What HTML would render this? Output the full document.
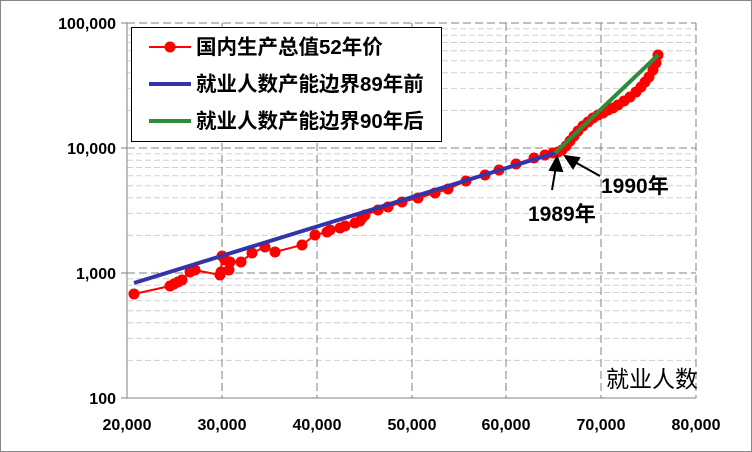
<!DOCTYPE html><html><head><meta charset="utf-8"><style>body{margin:0;background:#fff}svg{display:block;font-family:"Liberation Sans","Noto Sans CJK SC",sans-serif}</style></head><body>
<svg width="752" height="452" viewBox="0 0 752 452">
<rect x="0.5" y="0.5" width="751" height="451" fill="#fff" stroke="#888"/>
<g stroke="#d0d0d0" stroke-dasharray="6,3" stroke-width="1">
<path d="M127 110.4H696M127 88.4H696M127 72.8H696M127 60.7H696M127 50.8H696M127 42.5H696M127 35.2H696M127 28.7H696M127 235.4H696M127 213.4H696M127 197.8H696M127 185.7H696M127 175.8H696M127 167.5H696M127 160.2H696M127 153.7H696M127 360.4H696M127 338.4H696M127 322.8H696M127 310.7H696M127 300.8H696M127 292.5H696M127 285.2H696M127 278.7H696"/>
</g>
<g stroke="#808080" stroke-dasharray="8,4" stroke-width="1">
<path d="M127 23H696M127 148H696M127 273H696M696 23V398"/>
<path d="M222 23V398M317 23V398M412 23V398M506 23V398M601 23V398"/>
</g>
<path d="M127 23V398H696" stroke="#808080" fill="none"/>
<g stroke="#808080"><path d="M121 23H127M121 148H127M121 273H127M121 398H127"/></g>
<g font-size="16" font-weight="bold" fill="#000" text-anchor="end">
<text x="116" y="29">100,000</text><text x="116" y="154">10,000</text><text x="116" y="279">1,000</text><text x="116" y="404">100</text>
</g>
<g font-size="16" font-weight="bold" fill="#000" text-anchor="middle">
<text x="127" y="430">20,000</text><text x="222" y="430">30,000</text><text x="317" y="430">40,000</text><text x="412" y="430">50,000</text><text x="506" y="430">60,000</text><text x="601" y="430">70,000</text><text x="696" y="430">80,000</text>
</g>
<polyline fill="none" stroke="#f00" stroke-width="2" points="134,294 170,286 174,284 178,282 182,280 190,272 195,270 220,275 221,272 222,256 225,260 229,270 230,262 241,262 252,253 265,247 275,252 302,245 315,235 327,232 330,230 340,228 345,226 355,223 360,221 362,218 365,215 378,210 388,207 402,202 418,198 435,193 448,189 466,181 485,175 499,170 516,164 534,158 545,155 553,153 558,152 562,150 566,146 570,141 574,136 578,131 583,126 588,122 593,118 598,115 603,113 608,110 613,108 618,105 624,101 630,97 636,92 641,87 645,82 649,77 653,70 656,63 658,55"/>
<g fill="#f00">
<circle cx="134" cy="294" r="5.5"/><circle cx="170" cy="286" r="5.5"/><circle cx="174" cy="284" r="5.5"/><circle cx="178" cy="282" r="5.5"/><circle cx="182" cy="280" r="5.5"/><circle cx="190" cy="272" r="5.5"/><circle cx="195" cy="270" r="5.5"/><circle cx="220" cy="275" r="5.5"/><circle cx="221" cy="272" r="5.5"/><circle cx="222" cy="256" r="5.5"/><circle cx="225" cy="260" r="5.5"/><circle cx="229" cy="270" r="5.5"/><circle cx="230" cy="262" r="5.5"/><circle cx="241" cy="262" r="5.5"/><circle cx="252" cy="253" r="5.5"/><circle cx="265" cy="247" r="5.5"/><circle cx="275" cy="252" r="5.5"/><circle cx="302" cy="245" r="5.5"/><circle cx="315" cy="235" r="5.5"/><circle cx="327" cy="232" r="5.5"/><circle cx="330" cy="230" r="5.5"/><circle cx="340" cy="228" r="5.5"/><circle cx="345" cy="226" r="5.5"/><circle cx="355" cy="223" r="5.5"/><circle cx="360" cy="221" r="5.5"/><circle cx="362" cy="218" r="5.5"/><circle cx="365" cy="215" r="5.5"/><circle cx="378" cy="210" r="5.5"/><circle cx="388" cy="207" r="5.5"/><circle cx="402" cy="202" r="5.5"/><circle cx="418" cy="198" r="5.5"/><circle cx="435" cy="193" r="5.5"/><circle cx="448" cy="189" r="5.5"/><circle cx="466" cy="181" r="5.5"/><circle cx="485" cy="175" r="5.5"/><circle cx="499" cy="170" r="5.5"/><circle cx="516" cy="164" r="5.5"/><circle cx="534" cy="158" r="5.5"/><circle cx="545" cy="155" r="5.5"/><circle cx="553" cy="153" r="5.5"/><circle cx="558" cy="152" r="5.5"/><circle cx="562" cy="150" r="5.5"/><circle cx="566" cy="146" r="5.5"/><circle cx="570" cy="141" r="5.5"/><circle cx="574" cy="136" r="5.5"/><circle cx="578" cy="131" r="5.5"/><circle cx="583" cy="126" r="5.5"/><circle cx="588" cy="122" r="5.5"/><circle cx="593" cy="118" r="5.5"/><circle cx="598" cy="115" r="5.5"/><circle cx="603" cy="113" r="5.5"/><circle cx="608" cy="110" r="5.5"/><circle cx="613" cy="108" r="5.5"/><circle cx="618" cy="105" r="5.5"/><circle cx="624" cy="101" r="5.5"/><circle cx="630" cy="97" r="5.5"/><circle cx="636" cy="92" r="5.5"/><circle cx="641" cy="87" r="5.5"/><circle cx="645" cy="82" r="5.5"/><circle cx="649" cy="77" r="5.5"/><circle cx="653" cy="70" r="5.5"/><circle cx="656" cy="63" r="5.5"/><circle cx="658" cy="55" r="5.5"/>
</g>
<line x1="134" y1="283" x2="555" y2="153" stroke="#3333aa" stroke-width="4"/>
<line x1="555" y1="153" x2="658" y2="55" stroke="#2e8b3a" stroke-width="4"/>
<g stroke="#000" stroke-width="2" fill="#000">
<line x1="552" y1="190" x2="556" y2="166"/><polygon points="557,157 550,170 562,171"/>
<line x1="600" y1="176" x2="573" y2="161"/><polygon points="565,156 573,168 579,158"/>
</g>
<g font-size="21" font-weight="bold" fill="#000">
<text x="528" y="221">1989年</text><text x="601" y="193">1990年</text>
</g>
<text x="606" y="387" font-size="23" fill="#000">就业人数</text>
<rect x="131.5" y="27.5" width="310" height="114" fill="#fff" stroke="#000"/>
<line x1="149" y1="47" x2="191" y2="47" stroke="#f00" stroke-width="2"/><circle cx="170" cy="47" r="5.5" fill="#f00"/>
<line x1="149" y1="84" x2="191" y2="84" stroke="#3333aa" stroke-width="4"/>
<line x1="149" y1="121" x2="191" y2="121" stroke="#2e8b3a" stroke-width="4"/>
<g font-size="20.5" font-weight="bold" fill="#000">
<text x="196" y="54">国内生产总值52年价</text>
<text x="196" y="91">就业人数产能边界89年前</text>
<text x="196" y="128">就业人数产能边界90年后</text>
</g>
</svg>
</body></html>
